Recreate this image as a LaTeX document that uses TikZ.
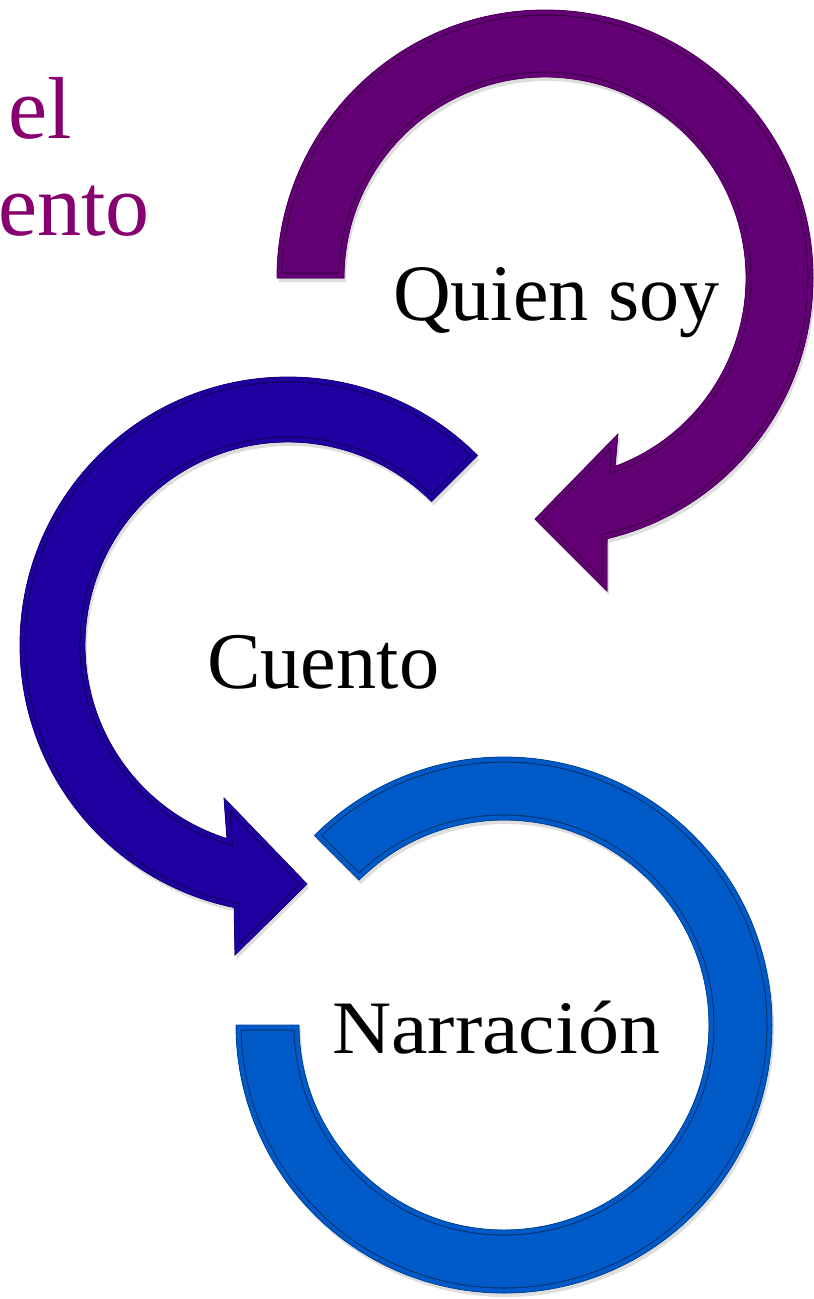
\documentclass[tikz,border=0pt]{standalone}
\usepackage{fontspec}
\setmainfont{Liberation Serif}
\usetikzlibrary{calc}
\definecolor{arrowpurple}{RGB}{100,0,117}
\definecolor{arrowindigo}{RGB}{31,0,160}
\definecolor{arrowblue}{RGB}{0,90,200}
\definecolor{titlepurple}{RGB}{135,0,112}
\newcommand\fancyshape[2]{%
  \fill[black,opacity=0.13,shift={(2,4)}] #2;
  \fill[#1] #2;
  \begin{scope}
    \clip #2;
    \draw[#1!55!black, line width=11] #2;
    \draw[#1, line width=9] #2;
  \end{scope}
  \draw[#1!75!black, line width=0.8] #2;
}
\tikzset{
  label text/.style={anchor=base west, inner sep=0pt, text=black},
  title text/.style={anchor=base west, inner sep=0pt, text=titlepurple,
    font=\fontsize{88}{96}\selectfont}
}
\begin{document}
\begin{tikzpicture}[x=1pt,y=-1pt]
\useasboundingbox (0,0) rectangle (814,1299);
\clip (0,0) rectangle (814,1299);

% title fragment (cut off at the left edge)
\node[title text] (titleA) at (8,138) {el};
\node[title text] (titleB) at (-2,235) {ento};

% purple arrow (Quien soy)
\fancyshape{arrowpurple}{([shift={(545,278)}]180:268) arc[start angle=180, end angle=436.6, radius=268] -- (607,591) -- (535,519) -- (618,434) -- ([shift={(545,278)}]429.6:201) arc[start angle=429.6, end angle=180, radius=201] -- cycle}

% indigo arrow (Cuento)
\fancyshape{arrowindigo}{([shift={(288,645)}]-45:268) arc[start angle=-45, end angle=-258.4, radius=268] -- (235,955) -- (307,884) -- (224,798) -- ([shift={(288,645)}]-252.5:203) arc[start angle=-252.5, end angle=-45, radius=203] -- cycle}

% blue ring (Narracion)
\fancyshape{arrowblue}{([shift={(504,1025)}]225:268) arc[start angle=225, end angle=540, radius=268] -- ([shift={(504,1025)}]540:205) arc[start angle=540, end angle=225, radius=205] -- cycle}

% labels
\node[label text, font=\fontsize{80}{88}\selectfont] (quien) at (393,320) {Quien soy};
\node[label text, font=\fontsize{80.3}{88}\selectfont] (cuento) at (207,688) {Cuento};
\node[label text, font=\fontsize{75.5}{84}\selectfont] (narracion) at (332,1053) {\scalebox{1.086}[1]{Narración}};
\end{tikzpicture}
\end{document}
